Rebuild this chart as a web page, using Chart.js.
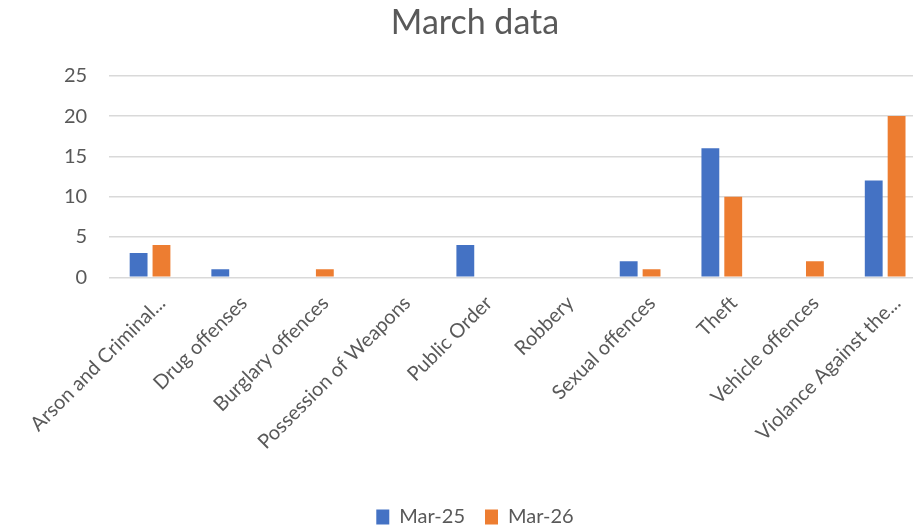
<!DOCTYPE html>
<html>
<head>
<meta charset="utf-8">
<script src="https://cdn.jsdelivr.net/npm/chart.js@4"></script>
<style>
  html, body { margin: 0; padding: 0; background: #fff; overflow: hidden; }
  #wrap { width: 950px; height: 529px; }
</style>
</head>
<body>
<div id="wrap"><canvas id="march-chart" width="950" height="529"></canvas></div>
<script>
// data
var categories = [
  "Arson and Criminal...",
  "Drug offenses",
  "Burglary offences",
  "Possession of Weapons",
  "Public Order",
  "Robbery",
  "Sexual offences",
  "Theft",
  "Vehicle offences",
  "Violance Against the..."
];
var mar25 = [3, 1, 0, 0, 4, 0, 2, 16, 0, 12];
var mar26 = [4, 0, 1, 0, 0, 0, 1, 10, 2, 20];
var yTicks = [0, 5, 10, 15, 20, 25];

var textColor = "#595959";
var fontFamily = "Lato, 'Open Sans', sans-serif";

var chart = new Chart(document.getElementById("march-chart"), {
  type: "bar",
  data: {
    labels: categories,
    datasets: [
      {
        label: "Mar-25",
        data: mar25,
        backgroundColor: "#4472C4",
        categoryPercentage: 0.56,
        barPercentage: 0.78
      },
      {
        label: "Mar-26",
        data: mar26,
        backgroundColor: "#ED7D31",
        categoryPercentage: 0.56,
        barPercentage: 0.78
      }
    ]
  },
  options: {
    responsive: false,
    animation: false,
    layout: { padding: { left: 24, right: 24, top: 0, bottom: -8 } },
    plugins: {
      title: {
        display: true,
        text: "March data",
        color: textColor,
        font: { family: fontFamily, size: 34, weight: "normal" },
        padding: { top: 3, bottom: 32 }
      },
      legend: {
        position: "bottom",
        labels: {
          color: textColor,
          font: { family: fontFamily, size: 20 },
          boxWidth: 13,
          boxHeight: 15,
          padding: 20
        }
      },
      tooltip: { enabled: false }
    },
    scales: {
      x: {
        grid: { display: false },
        border: { display: false },
        ticks: {
          color: textColor,
          font: { family: fontFamily, size: 20 },
          minRotation: 45,
          maxRotation: 45,
          autoSkip: false,
          padding: 6,
          labelOffset: 12
        },
        afterFit: function(scale) { scale.height += 27; }
      },
      y: {
        min: 0,
        max: 25,
        afterBuildTicks: function(scale) {
          scale.ticks = yTicks.map(function(v) { return { value: v }; });
        },
        afterFit: function(scale) { scale.width += 18; },
        grid: { color: "#d9d9d9", lineWidth: 1.5, drawTicks: false },
        border: { display: false },
        ticks: {
          color: textColor,
          font: { family: fontFamily, size: 20 },
          padding: 22
        }
      }
    }
  }
});
</script>
</body>
</html>
